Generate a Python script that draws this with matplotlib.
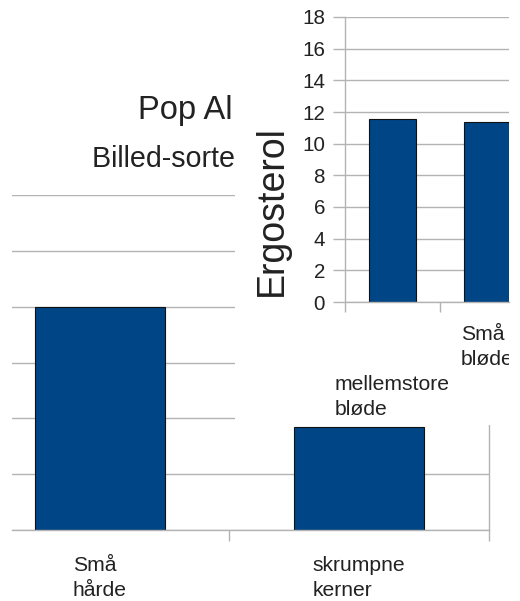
import matplotlib
matplotlib.use("Agg")
import matplotlib.pyplot as plt
from matplotlib.transforms import blended_transform_factory, ScaledTranslation

plt.rcParams['font.family'] = ['Liberation Sans', 'DejaVu Sans']

# background chart
bg_title = "Pop Al - oversigt"
bg_subtitle = "Billed-sorterede kerner"
bg_categories = ["Små\nhårde", "skrumpne\nkerner"]
bg_values = [8.0, 3.7]

# inset chart
inset_ylabel = "Ergosterol"
inset_categories = ["mellemstore\nbløde", "Små\nbløde"]
inset_values = [11.55, 11.4]

W, H = 520, 601
BLUE = '#004586'
GRID = '#b3b3b3'
TXT = '#222222'


def box(x0, y0, x1, y1):
    # pixel box (top-left origin) -> figure fraction rect
    return [x0 / W, 1 - y1 / H, (x1 - x0) / W, (y1 - y0) / H]


fig = plt.figure(figsize=(W / 100, H / 100), dpi=100)

# ---- background chart ----
ax1 = fig.add_axes(box(12, 195, 489, 530), zorder=0)
x1 = range(len(bg_values))
ax1.bar(x1, bg_values, width=0.5, color=BLUE, edgecolor='#111111', linewidth=0.8, zorder=2)
ax1.set_xlim(-0.338, 1.5)
ax1.set_ylim(0, 12)
ax1.set_yticks(range(0, 13, 2))
ax1.tick_params(axis='y', length=0, labelleft=False)
ax1.yaxis.grid(True, color=GRID, linewidth=1)
ax1.set_axisbelow(True)
ax1.set_xticks([0.5, 1.5])
ax1.tick_params(axis='x', length=8, width=1, color=GRID, labelbottom=False)
for s in ['left', 'top']:
    ax1.spines[s].set_visible(False)
for s in ['bottom', 'right']:
    ax1.spines[s].set_color(GRID)
    ax1.spines[s].set_linewidth(1)

tr1 = blended_transform_factory(ax1.transData, ax1.transAxes) + \
    ScaledTranslation(0, -18.5 / 72, fig.dpi_scale_trans)
for i, lab in enumerate(bg_categories):
    fig.text(i, 0, lab, transform=tr1, ha='center', va='top', multialignment='left',
             fontsize=15.2, color=TXT, linespacing=1.4, zorder=0.5)

fig.text(138 / W, 1 - 119 / H, bg_title, ha='left', va='baseline',
         fontsize=23.5, color=TXT, zorder=0.5)
fig.text(92 / W, 1 - 167 / H, bg_subtitle, ha='left', va='baseline',
         fontsize=20.6, color=TXT, zorder=0.5)

# ---- inset chart (covers part of the background) ----
ax_bg = fig.add_axes(box(235, 0, 509, 425), zorder=1)
ax_bg.set_facecolor('white')
ax_bg.set_xticks([])
ax_bg.set_yticks([])
for s in ax_bg.spines.values():
    s.set_visible(False)

ax2 = fig.add_axes(box(345, 17, 509, 302), zorder=2)
ax2.set_facecolor('white')
x2 = range(len(inset_values))
ax2.bar(x2, inset_values, width=0.5, color=BLUE, edgecolor='#111111', linewidth=0.8, zorder=2)
ax2.set_xlim(-0.5, -0.5 + 164 / 95)
ax2.set_ylim(0, 18)
ax2.set_yticks(range(0, 19, 2))
ax2.tick_params(axis='y', length=8.6, width=1, color=GRID, pad=5.8,
                labelsize=14.9, labelcolor=TXT)
ax2.yaxis.grid(True, color=GRID, linewidth=1)
ax2.set_axisbelow(True)
ax2.set_xticks([-0.5, 0.5])
ax2.tick_params(axis='x', length=7.2, width=1, color=GRID, labelbottom=False)
for s in ['right', 'top']:
    ax2.spines[s].set_visible(False)
for s in ['bottom', 'left']:
    ax2.spines[s].set_color(GRID)
    ax2.spines[s].set_linewidth(1)

# staggered category labels, clipped by the inset frame
offsets = [52.5, 16.6]
for i, lab in enumerate(inset_categories):
    tr2 = blended_transform_factory(ax2.transData, ax2.transAxes) + \
        ScaledTranslation(0, -offsets[i] / 72, fig.dpi_scale_trans)
    t = fig.text(i, 0, lab, transform=tr2, ha='center', va='top', multialignment='left',
                 fontsize=15.2, color=TXT, linespacing=1.4, zorder=3)
    t.set_clip_box(ax_bg.bbox)
    t.set_clip_on(True)

fig.text(272 / W, 1 - 211 / H, inset_ylabel, rotation=90, ha='center', va='center',
         fontsize=27, color=TXT, zorder=3)

fig.savefig('out.png', dpi=100)
